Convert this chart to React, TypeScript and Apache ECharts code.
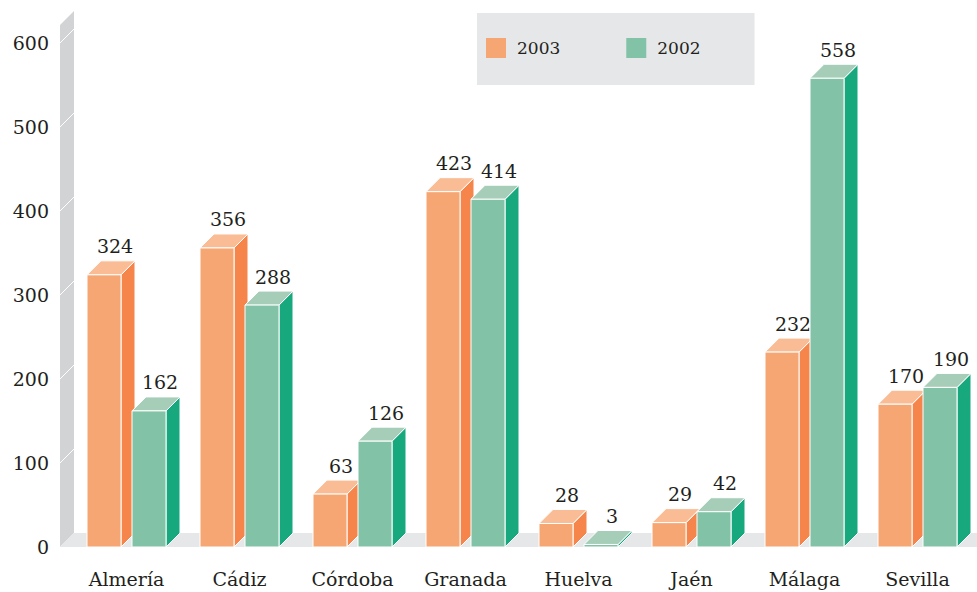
import React, { useEffect, useRef } from "react";
import * as echarts from "echarts";

const categories = ["Almería", "Cádiz", "Córdoba", "Granada", "Huelva", "Jaén", "Málaga", "Sevilla"];
const values2003 = [324, 356, 63, 423, 28, 29, 232, 170];
const values2002 = [162, 288, 126, 414, 3, 42, 558, 190];
const yTicks = [0, 100, 200, 300, 400, 500, 600];
const seriesNames = ["2003", "2002"];

const FONT = "DejaVu Serif";
const TEXT = "#231f20";
const DEPTH = 14;

const palettes = [
  { front: "#F5A673", side: "#F5854A", top: "#F9BC94" },
  { front: "#82C3A7", side: "#17A87E", top: "#A6CDB8" },
];

function makeBarRenderer(si: number) {
  return (params: any, api: any) => {
    const ci = api.value(0);
    const v = api.value(1);
    const base = api.coord([ci, 0]);
    const top = api.coord([ci, v]);
    const band = api.size([1, 0])[0];
    const w = (band * 34) / 113;
    const off = ((band * 22.5) / 113) * (si === 0 ? -1 : 1);
    const x0 = base[0] + off - w / 2;
    const x1 = x0 + w;
    const yb = base[1];
    const yt = top[1];
    const d = DEPTH;
    const p = palettes[si];
    return {
      type: "group",
      children: [
        {
          type: "polygon",
          shape: { points: [[x1, yb], [x1, yt], [x1 + d, yt - d], [x1 + d, yb - d]] },
          style: { fill: p.side, stroke: "#fff", lineWidth: 1 },
        },
        {
          type: "polygon",
          shape: { points: [[x0, yt], [x1, yt], [x1 + d, yt - d], [x0 + d, yt - d]] },
          style: { fill: p.top, stroke: "#fff", lineWidth: 1 },
        },
        {
          type: "rect",
          shape: { x: x0, y: yt, width: w, height: yb - yt },
          style: { fill: p.front, stroke: "#fff", lineWidth: 1 },
        },
        {
          type: "text",
          x: x0 + w / 2 + 11,
          y: yt - d - 5,
          style: {
            text: String(v),
            fill: TEXT,
            font: `19px "${FONT}"`,
            align: "center",
            verticalAlign: "bottom",
          },
        },
      ],
    };
  };
}

function renderFrame(params: any, api: any) {
  const cs = params.coordSys;
  const gx = cs.x;
  const gw = cs.width;
  const y0 = api.coord([0, 0])[1];
  const yTop = api.coord([0, 600])[1] - 18;
  const wx0 = gx - 10;
  const wx1 = gx + 4;
  const children: any[] = [
    {
      type: "polygon",
      shape: { points: [[wx0, y0], [wx0, yTop], [wx1, yTop - 14], [wx1, y0 - 14]] },
      style: { fill: "#D1D3D4" },
    },
    {
      type: "polygon",
      shape: { points: [[wx0, y0], [wx1, y0 - 14], [gx + gw + 30, y0 - 14], [gx + gw + 30, y0]] },
      style: { fill: "#E6E7E8" },
    },
  ];
  yTicks.forEach((t) => {
    if (t === 0) return;
    const y = api.coord([0, t])[1];
    children.push({
      type: "line",
      shape: { x1: wx0, y1: y, x2: wx1, y2: y - 14 },
      style: { stroke: "#ffffff", lineWidth: 1 },
    });
  });
  return { type: "group", children };
}

export default function App() {
  const ref = useRef<HTMLDivElement>(null);
  useEffect(() => {
    if (!ref.current) return;
    const chart = echarts.init(ref.current, undefined, { renderer: "svg" });
    chart.setOption({
      animation: false,
      backgroundColor: "#ffffff",
      grid: { left: 70, right: 3, top: 43, bottom: 45, containLabel: false },
      legend: {
        data: seriesNames,
        left: 477,
        top: 13,
        orient: "horizontal",
        backgroundColor: "#E6E7E8",
        padding: [25, 54, 27, 9],
        itemGap: 66,
        itemWidth: 20,
        itemHeight: 20,
        icon: "rect",
        selectedMode: false,
        textStyle: { fontFamily: FONT, fontSize: 17, color: TEXT, padding: [0, 0, 0, 6] },
      },
      xAxis: {
        type: "category",
        data: categories,
        axisLine: { show: false },
        axisTick: { show: false },
        splitLine: { show: false },
        axisLabel: { fontFamily: FONT, fontSize: 19, color: TEXT, margin: 22 },
      },
      yAxis: {
        type: "value",
        min: 0,
        max: 600,
        interval: 100,
        axisLine: { show: false },
        axisTick: { show: false },
        splitLine: { show: false },
        axisLabel: { fontFamily: FONT, fontSize: 19, color: TEXT, margin: 21 },
      },
      series: [
        {
          type: "custom",
          name: "frame",
          z: 1,
          silent: true,
          clip: false,
          renderItem: renderFrame,
          data: [[0, 0]],
        },
        {
          type: "custom",
          name: seriesNames[0],
          z: 2,
          clip: false,
          itemStyle: { color: palettes[0].front },
          renderItem: makeBarRenderer(0),
          data: values2003.map((v, i) => [i, v]),
        },
        {
          type: "custom",
          name: seriesNames[1],
          z: 3,
          clip: false,
          itemStyle: { color: palettes[1].front },
          renderItem: makeBarRenderer(1),
          data: values2002.map((v, i) => [i, v]),
        },
      ],
    });
    return () => chart.dispose();
  }, []);
  return <div ref={ref} style={{ width: 977, height: 592, position: "absolute", left: 0, top: 0 }} />;
}
